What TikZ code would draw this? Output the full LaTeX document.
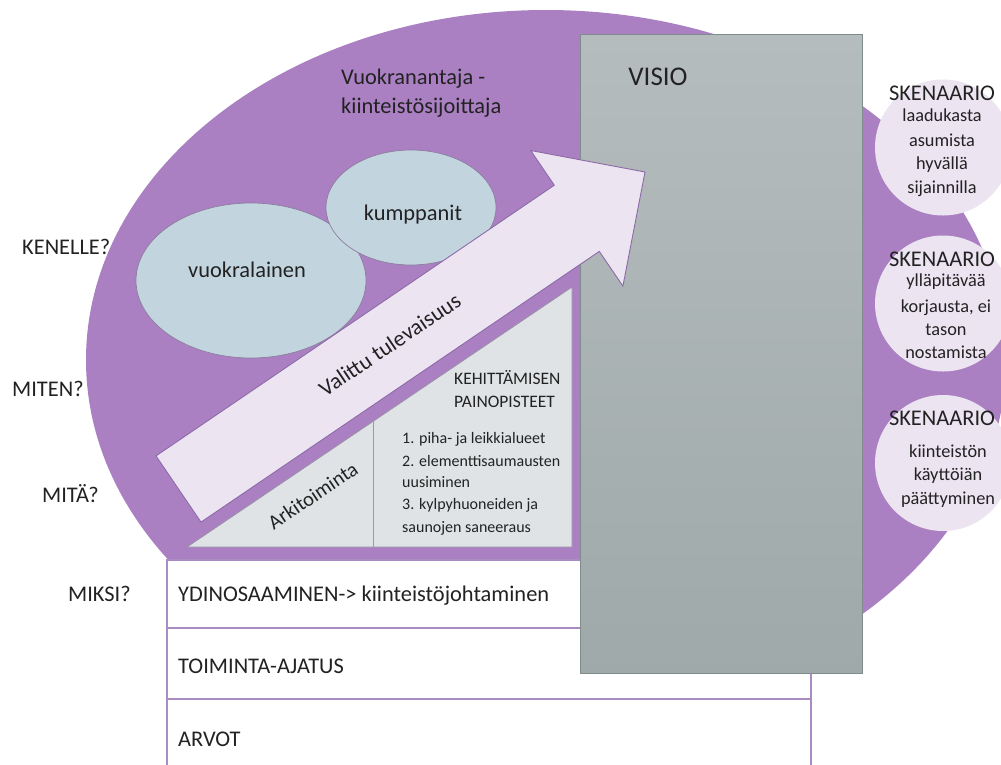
\documentclass[tikz,border=0pt]{standalone}
\usepackage{fontspec}
\setmainfont{Carlito}
\usetikzlibrary{shapes.geometric}
\definecolor{purp}{HTML}{AA80C2}
\definecolor{lav}{HTML}{EDE4F2}
\definecolor{lavline}{HTML}{8C6AA8}
\definecolor{blu}{HTML}{C2D5DF}
\definecolor{bluline}{HTML}{8C7C9E}
\definecolor{trifill}{HTML}{DFE3E5}
\definecolor{triline}{HTML}{9A8FA8}
\definecolor{gtop}{HTML}{B5BCBE}
\definecolor{gbot}{HTML}{9FA9A9}
\definecolor{gline}{HTML}{7E8C8B}
\definecolor{tline}{HTML}{A88CC2}
\definecolor{ink}{HTML}{222222}
\begin{document}
\begin{tikzpicture}[x=1pt,y=-1pt,
  txt/.style={inner sep=0pt, text=ink, text depth=0pt},
  big/.style={txt, font=\fontsize{22.4}{26}\selectfont, text height=14.3pt},
  mid/.style={txt, font=\fontsize{18.3}{22}\selectfont, text height=11.7pt},
  head/.style={txt, font=\fontsize{17.5}{21}\selectfont, text height=11.2pt},
  small/.style={txt, font=\fontsize{16}{19}\selectfont, text height=10.3pt},
  blob/.style={ellipse, draw=bluline, line width=0.7pt, fill=blu, inner sep=0pt},
  scen/.style={circle, fill=lav, inner sep=0pt, minimum size=136pt},
  rowbox/.style={draw=tline, line width=1.3pt, fill=white}
]
\useasboundingbox (0,0) rectangle (1001,764);
\clip (0,0) rectangle (1001,764);
\fill[white] (0,0) rectangle (1001,764);

% big purple shape
\fill[purp] (546,360) ellipse [x radius=460pt, y radius=350pt];

% scenario circles
\node[scen] (s1) at (943,147.5) {};
\node[scen] (s2) at (943,303.5) {};
\node[scen] (s3) at (943,463) {};

% table
\draw[rowbox] (167,560) rectangle (811,628);
\draw[rowbox] (167,628) rectangle (811,699);
\draw[rowbox] (167,699) rectangle (811,775);

% triangle
\draw[fill=trifill, draw=triline, line width=0.8pt] (187,547) -- (572,547) -- (572,287) -- cycle;
\draw[draw=tline, line width=0.9pt] (373,421.4) -- (373,547);

% blue ellipses
\node[blob, minimum width=230pt, minimum height=155pt] (vuok) at (251,280.5) {};
\node[blob, minimum width=170pt, minimum height=115pt] (kump) at (411,207.5) {};

% gray VISIO box
\node[draw=gline, line width=1pt, top color=gtop, bottom color=gbot,
      minimum width=282pt, minimum height=639pt, inner sep=0pt] (visio) at (721,353.5) {};

% big arrow
\draw[fill=lav, draw=lavline, line width=0.9pt]
  (156,455.9) -- (554.3,185.2) -- (530.7,150.5) -- (645,172) -- (622.9,286.1)
  -- (599.3,251.4) -- (201,522.1) -- cycle;

% texts
\node[big, anchor=west] (t1) at (341,77) {Vuokranantaja -};
\node[big, anchor=west] (t2) at (341,106) {kiinteistösijoittaja};
\node[big, anchor=west] (q1) at (22,247) {KENELLE?};
\node[big, anchor=west] (q2) at (12,389) {MITEN?};
\node[big, anchor=west] (q3) at (42,495) {MITÄ?};
\node[big, anchor=west] (q4) at (68,594) {MIKSI?};
\node[big] (tv) at (247,270) {vuokralainen};
\node[big] (tk) at (413,213) {kumppanit};
\node[big, rotate=34] (tval) at (390,345) {Valittu tulevaisuus};
\node[big, font=\fontsize{20.5}{24}\selectfont, text height=13.2pt, rotate=34] (tark) at (313,496) {Arkitoiminta};
\node[head, anchor=west] (h1) at (454,379) {KEHITTÄMISEN};
\node[head, anchor=west] (h2) at (454,402) {PAINOPISTEET};
\node[small, anchor=west] (l1) at (402,438) {1. piha- ja leikkialueet};
\node[small, anchor=west] (l2) at (402,461) {2. elementtisaumausten};
\node[small, anchor=west] (l3) at (402,482) {uusiminen};
\node[small, anchor=west] (l4) at (402,504) {3. kylpyhuoneiden ja};
\node[small, anchor=west] (l5) at (402,527) {saunojen saneeraus};
\node[txt, font=\fontsize{27}{30}\selectfont, text height=17.3pt] (tvis) at (658,77) {VISIO};

\node[big] (k1) at (942,93) {SKENAARIO};
\node[mid] (a1) at (942,116) {laadukasta};
\node[mid] (a2) at (942,141) {asumista};
\node[mid] (a3) at (942,164) {hyvällä};
\node[mid] (a4) at (942,188) {sijainnilla};
\node[big] (k2) at (942,259) {SKENAARIO};
\node[mid] (b1) at (946,281) {ylläpitävää};
\node[mid] (b2) at (946,307) {korjausta, ei};
\node[mid] (b3) at (946,330) {tason};
\node[mid] (b4) at (946,353) {nostamista};
\node[big] (k3) at (942,418) {SKENAARIO};
\node[mid] (c1) at (948,452) {kiinteistön};
\node[mid] (c2) at (948,475) {käyttöiän};
\node[mid] (c3) at (948,499) {päättyminen};

\node[big, anchor=west] (r1) at (178,594) {YDINOSAAMINEN-> kiinteistöjohtaminen};
\node[big, anchor=west] (r2) at (178,666) {TOIMINTA-AJATUS};
\node[big, anchor=west] (r3) at (178,739) {ARVOT};
\end{tikzpicture}
\end{document}
